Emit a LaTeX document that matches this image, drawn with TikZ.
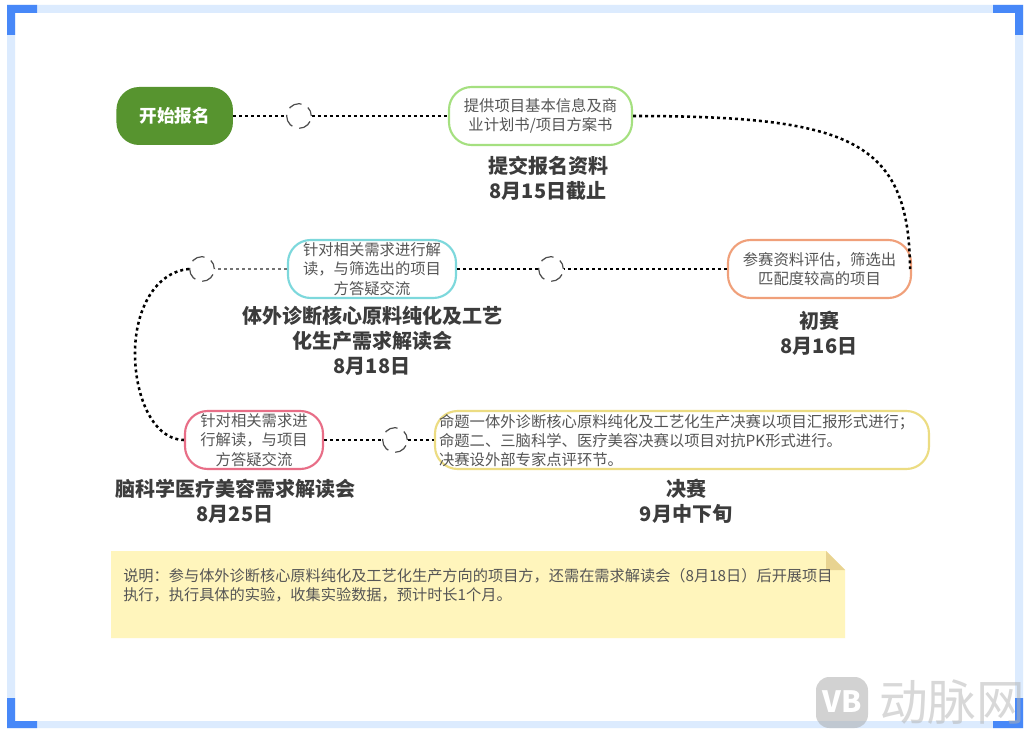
\documentclass[tikz,border=0pt]{standalone}
\usepackage{fontspec}
\setmainfont{Noto Sans CJK SC}
\usetikzlibrary{calc}
\definecolor{framelight}{HTML}{DCEBFE}
\definecolor{frameblue}{HTML}{4788F8}
\definecolor{startgreen}{HTML}{57942F}
\definecolor{txtsmall}{HTML}{555555}
\definecolor{txtbold}{HTML}{3C3C3C}
\definecolor{notefill}{HTML}{FFF5BC}
\definecolor{notefold}{HTML}{E8D391}
\definecolor{bordergreen}{HTML}{A5E080}
\definecolor{borderorange}{HTML}{F0A07A}
\definecolor{borderteal}{HTML}{7DD8DC}
\definecolor{borderpink}{HTML}{E86E87}
\definecolor{borderyellow}{HTML}{ECDC82}
\tikzset{
  x=0.75pt,y=-0.75pt,
  pill/.style={draw,line width=1.6pt,rounded corners=17pt,fill=white,inner sep=0pt,align=center,text=txtsmall,font=\fontsize{11.5}{14.5}\selectfont},
  biglabel/.style={inner sep=0pt,align=center,text=txtbold,font=\fontsize{15}{18.75}\selectfont\bfseries},
  ring/.style={circle,draw=black!70,line width=0.9pt,dash pattern=on 10pt off 5.5pt,dash phase=3pt,minimum size=18.5pt,inner sep=0pt},
  dotlink/.style={draw=black,line width=1.9pt,dash pattern=on 2.2pt off 2.3pt},
  thinlink/.style={draw=black!55,line width=1.3pt,dash pattern=on 2.2pt off 2.3pt},
  corner/.style={fill=frameblue,draw=none},
}
\newcommand{\pillnode}[7]{\node[pill,draw=#3,minimum width=#4*0.75pt,minimum height=#5*0.75pt] (#1) at (#6,#7) {#2};}
\begin{document}
\begin{tikzpicture}
\path[use as bounding box,fill=white] (0,0) rectangle (1033,738);
% frame
\fill[framelight,even odd rule] (7,5) rectangle (1023,728) (15,13) rectangle (1015,721);
\fill[corner] (7,5) -- (37,5) -- (37,13) -- (15,13) -- (15,35) -- (7,35) -- cycle;
\fill[corner] (1023,5) -- (993,5) -- (993,13) -- (1015,13) -- (1015,35) -- (1023,35) -- cycle;
\fill[corner] (7,728) -- (37,728) -- (37,721) -- (15,721) -- (15,698) -- (7,698) -- cycle;
\fill[corner] (1023,728) -- (993,728) -- (993,721) -- (1015,721) -- (1015,698) -- (1023,698) -- cycle;
% nodes
\node[fill=startgreen,rounded corners=17pt,minimum width=116.5*0.75pt,minimum height=58*0.75pt,inner sep=0pt,text=white,font=\fontsize{13.2}{15}\selectfont\bfseries] (start) at (174.7,116) {开始报名};
\pillnode{submit}{提供项目基本信息及商\\业计划书/项目方案书}{bordergreen}{183}{58}{540.5}{116}
\pillnode{prelim}{参赛资料评估，筛选出\\匹配度较高的项目}{borderorange}{183}{58}{819.5}{269}
\pillnode{teal}{针对相关需求进行解\\读，与筛选出的项目\\方答疑交流}{borderteal}{168}{58}{372}{269}
\pillnode{pink}{针对相关需求进\\行解读，与项目\\方答疑交流}{borderpink}{138}{58}{254}{440}
\pillnode{final}{\parbox{364.5pt}{\raggedright\fontsize{11.5}{14}\selectfont\vspace*{1pt}命题一体外诊断核心原料纯化及工艺化生产决赛以项目汇报形式进行；\\命题二、三脑科学、医疗美容决赛以项目对抗PK形式进行。\\决赛设外部专家点评环节。}}{borderyellow}{494}{58}{682}{440}
\node[ring] (r1) at (299,116) {};
\node[ring] (r2) at (551,269) {};
\node[ring] (r3) at (202,269) {};
\node[ring] (r4) at (395,440) {};
\coordinate (lbend) at (135,353);
% connectors
\draw[dotlink] (start) -- (r1);
\draw[dotlink] (r1) -- (submit);
\draw[dotlink] (submit.east) .. controls (850,116) and (909,140) .. ($(prelim.east)+(-2,0)$);
\draw[dotlink] (prelim) -- (r2);
\draw[dotlink] (r2) -- (teal);
\draw[thinlink] (teal) -- (r3);
\draw[dotlink] (r3.west) .. controls (155,272) and (135,310) .. (lbend) .. controls (135,400) and (155,440) .. (pink.west);
\draw[dotlink] (pink) -- (r4);
\draw[dotlink] (r4) -- (final);
% labels
\node[biglabel] (l1) at (548,178) {提交报名资料\\8月15日截止};
\node[biglabel] (l2) at (819,333) {初赛\\8月16日};
\node[biglabel] (l3) at (372,341) {体外诊断核心原料纯化及工艺\\化生产需求解读会\\8月18日};
\node[biglabel] (l4) at (235,501) {脑科学医疗美容需求解读会\\8月25日};
\node[biglabel] (l5) at (686,501) {决赛\\9月中下旬};
% note
\fill[notefill] (111,551) -- (826,551) -- (845,570) -- (845,638) -- (111,638) -- cycle;
\fill[notefold] (826,551) -- (845,570) -- (826,570) -- cycle;
\node[anchor=north west,inner sep=0pt,text width=540pt,align=left,text=txtsmall,font=\fontsize{11.4}{14.3}\selectfont] (note) at (123,568) {说明：参与体外诊断核心原料纯化及工艺化生产方向的项目方，还需在需求解读会（8月18日）后开展项目\\执行，执行具体的实验，收集实验数据，预计时长1个月。};
% watermark
\fill[black!35,opacity=0.5,rounded corners=10pt] (816,677) rectangle (868,728);
\node[inner sep=0pt,text=white,font=\fontsize{22}{22}\selectfont\bfseries\itshape] (wmicon) at (842,702) {VB};
\node[inner sep=0pt,text=black!30,opacity=0.5,font=\fontsize{36.5}{36.5}\selectfont] (wmtext) at (952,702) {动脉网};
\end{tikzpicture}
\end{document}
